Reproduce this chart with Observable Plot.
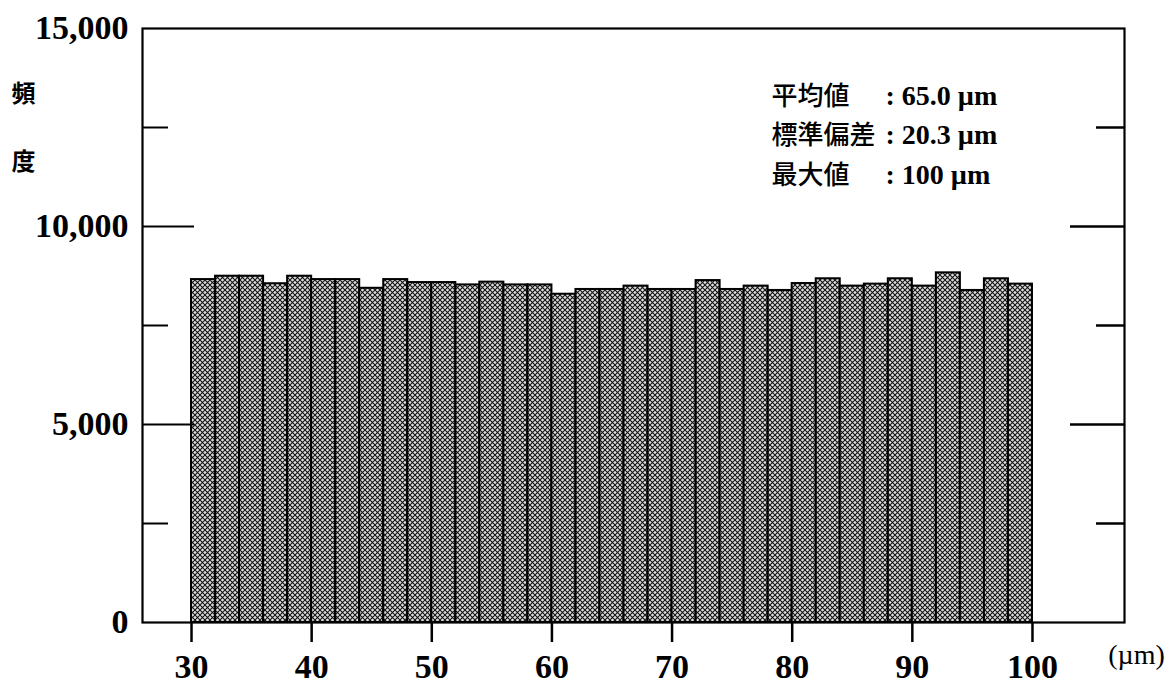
<!DOCTYPE html>
<html>
<head>
<meta charset="utf-8">
<script src="https://cdn.jsdelivr.net/npm/d3@7"></script>
<script src="https://cdn.jsdelivr.net/npm/@observablehq/plot@0.6"></script>
<style>
  html, body { margin: 0; padding: 0; background: #fff; }
  svg { display: block; }
</style>
</head>
<body>
<div id="chart"></div>
<script>
// ---- data ----
const binLower = [30,32,34,36,38,40,42,44,46,48,50,52,54,56,58,60,62,64,66,68,70,72,74,76,78,80,82,84,86,88,90,92,94,96,98];
const binUpper = [32,34,36,38,40,42,44,46,48,50,52,54,56,58,60,62,64,66,68,70,72,74,76,78,80,82,84,86,88,90,92,94,96,98,100];
const counts = [8660,8745,8745,8555,8745,8660,8660,8440,8660,8585,8585,8525,8595,8525,8525,8290,8410,8410,8495,8410,8410,8635,8410,8495,8385,8560,8680,8495,8545,8680,8495,8830,8385,8680,8545];
const xTicks = [30,40,50,60,70,80,90,100];
const yLabelTicks = [0,5000,10000,15000];
const yMajorTicks = [5000,10000];
const yMinorTicks = [2500,7500,12500];
const statLabels = ["平均値", "標準偏差", "最大値"];
const statValues = [": 65.0 µm", ": 20.3 µm", ": 100 µm"];
const yTitle = ["頻", "度"];
const xUnit = "(µm)";

const bins = binLower.map((lo, i) => ({x1: lo, x2: binUpper[i], count: counts[i]}));

const serif = "'Liberation Serif', 'Noto Sans CJK JP', serif";
const cjk = "'Noto Sans CJK JP', sans-serif";

const chart = Plot.plot({
  width: 1174,
  height: 687,
  marginLeft: 142,
  marginRight: 50,
  marginTop: 28,
  marginBottom: 65,
  style: {fontFamily: serif, background: "white", color: "black"},
  x: {domain: [25.92, 107.66]},
  y: {domain: [0, 15000]},
  marks: [
    Plot.rectY(bins, {x1: "x1", x2: "x2", y: "count", fill: "url(#dither)", stroke: "black", strokeWidth: 2}),
    Plot.frame({stroke: "black", strokeWidth: 2.2}),
    // x axis: ticks outward, labels below
    Plot.axisX({ticks: xTicks, tickSize: 20, tickPadding: 11, strokeWidth: 2.5, fontSize: 34, fontWeight: "bold", label: null, tickFormat: d => String(d)}),
    // y labels
    Plot.axisY({ticks: yLabelTicks, tickSize: 0, tickPadding: 14, fontSize: 34, fontWeight: "bold", label: null}),
    // inward ticks, left
    Plot.axisY({ticks: yMajorTicks, anchor: "left", tickSize: -52, strokeWidth: 2, text: null, label: null}),
    Plot.axisY({ticks: yMinorTicks, anchor: "left", tickSize: -26, strokeWidth: 2, text: null, label: null}),
    // inward ticks, right
    Plot.axisY({ticks: yMajorTicks, anchor: "right", tickSize: -55, strokeWidth: 2.5, text: null, label: null}),
    Plot.axisY({ticks: yMinorTicks, anchor: "right", tickSize: -29, strokeWidth: 2.5, text: null, label: null}),
    // y title
    Plot.text([yTitle.join("\n")], {frameAnchor: "top-left", dx: -119, dy: 86, textAnchor: "middle", lineAnchor: "middle", lineHeight: 2.8, fontSize: 24, fontWeight: "bold", fontFamily: cjk}),
    // x unit
    Plot.text([xUnit], {frameAnchor: "bottom-right", dx: 12, dy: 41, textAnchor: "middle", fontSize: 28, fontFamily: serif}),
    // stats box
    Plot.text([statLabels.join("\n")], {frameAnchor: "top-left", dx: 629, dy: 103, textAnchor: "start", lineAnchor: "middle", lineHeight: 1.52, fontSize: 26, fontFamily: cjk, fontWeight: 500}),
    Plot.text([statValues.join("\n")], {frameAnchor: "top-left", dx: 743, dy: 103, textAnchor: "start", lineAnchor: "middle", lineHeight: 1.41, fontSize: 28, fontWeight: "bold", fontFamily: serif})
  ]
});

// dither-like fill pattern
const ns = "http://www.w3.org/2000/svg";
const defs = document.createElementNS(ns, "defs");
defs.innerHTML = `<pattern id="dither" patternUnits="userSpaceOnUse" width="5" height="5">
  <rect width="5" height="5" fill="#dcdcdc"/>
  <path d="M0,0L5,5M5,0L0,5" stroke="#111" stroke-width="1.05"/>
</pattern>`;
chart.insertBefore(defs, chart.firstChild);

document.getElementById("chart").appendChild(chart);
</script>
</body>
</html>
